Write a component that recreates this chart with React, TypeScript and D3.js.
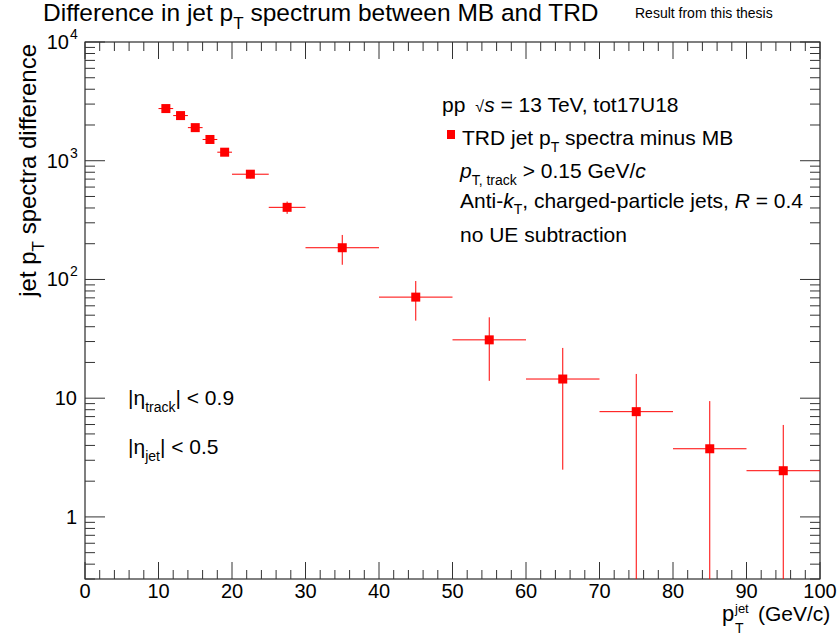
import React from "react";
import * as d3 from "d3";

const binLow = [10, 12, 14, 16, 18, 20, 25, 30, 40, 50, 60, 70, 80, 90];
const binHigh = [12, 14, 16, 18, 20, 25, 30, 40, 50, 60, 70, 80, 90, 100];
const values = [2750, 2400, 1900, 1510, 1180, 770, 405, 185, 71, 31, 14.5, 7.7, 3.75, 2.45];
const errors = [70, 65, 60, 55, 50, 60, 48, 52, 26, 17, 12, 8.3, 5.7, 3.5];
const xTicks = [0, 10, 20, 30, 40, 50, 60, 70, 80, 90, 100];
const yDecades = [1, 10, 100, 1000, 10000];

const W = 839, H = 637;
const L = 85, R = 820, T = 42, B = 579;
const FONT = "'Liberation Sans', Arial, Helvetica, sans-serif";

export default function App() {
  const x = d3.scaleLinear().domain([0, 100]).range([L, R]);
  const y = d3.scaleLog().domain([0.3, 1e4]).range([B, T]);
  const red = "#ff0000";
  const tickCol = "#333";

  const xMinor = d3.range(0, 101, 2).filter((v) => v % 10 !== 0);
  const yMinor: number[] = [];
  for (let e = -1; e < 4; e++) {
    for (let m = 2; m <= 9; m++) {
      const v = m * Math.pow(10, e);
      if (v > 0.3 && v < 1e4) yMinor.push(v);
    }
  }

  return (
    <svg width={W} height={H} style={{ position: "absolute", left: 0, top: 0 }} fontFamily={FONT}>
      <rect width={W} height={H} fill="white" />
      {/* title */}
      <text x={43} y={21} fontSize={24.5}>
        Difference in jet p<tspan dy={8} fontSize={17}>T</tspan>
        <tspan dy={-8}> spectrum between MB and TRD</tspan>
      </text>
      <text x={635} y={18} fontSize={14}>Result from this thesis</text>

      {/* frame */}
      <rect x={L} y={T} width={R - L} height={B - T} fill="none" stroke="black" strokeWidth={1} />

      {/* x ticks */}
      {xTicks.map((v) => (
        <g key={"xt" + v}>
          <line x1={x(v)} x2={x(v)} y1={B} y2={B - 17} stroke={tickCol} />
          <line x1={x(v)} x2={x(v)} y1={T} y2={T + 17} stroke={tickCol} />
          <text x={x(v)} y={598} fontSize={20} textAnchor="middle">{v}</text>
        </g>
      ))}
      {xMinor.map((v) => (
        <g key={"xm" + v}>
          <line x1={x(v)} x2={x(v)} y1={B} y2={B - 9} stroke={tickCol} />
          <line x1={x(v)} x2={x(v)} y1={T} y2={T + 9} stroke={tickCol} />
        </g>
      ))}

      {/* y ticks */}
      {yDecades.map((v) => (
        <g key={"yt" + v}>
          <line x1={L} x2={L + 20} y1={y(v)} y2={y(v)} stroke={tickCol} />
          <line x1={R} x2={R - 20} y1={y(v)} y2={y(v)} stroke={tickCol} />
        </g>
      ))}
      {yMinor.map((v) => (
        <g key={"ym" + v}>
          <line x1={L} x2={L + 10} y1={y(v)} y2={y(v)} stroke={tickCol} />
          <line x1={R} x2={R - 10} y1={y(v)} y2={y(v)} stroke={tickCol} />
        </g>
      ))}
      <text x={77} y={y(1) + 7} fontSize={20} textAnchor="end">1</text>
      <text x={77} y={y(10) + 7} fontSize={20} textAnchor="end">10</text>
      {[100, 1000, 10000].map((v, i) => (
        <g key={"yl" + v}>
          <text x={69} y={y(v) + 7} fontSize={20} textAnchor="end">10</text>
          <text x={70} y={y(v) - 3} fontSize={14}>{i + 2}</text>
        </g>
      ))}

      {/* axis titles */}
      <text transform={`translate(36,${T + 2}) rotate(-90)`} fontSize={24} textAnchor="end">
        jet p<tspan dy={8} fontSize={17}>T</tspan>
        <tspan dy={-8}> spectra difference</tspan>
      </text>
      <text x={722} y={621} fontSize={22}>p</text>
      <text x={735} y={613} fontSize={13}>jet</text>
      <text x={735} y={633} fontSize={14}>T</text>
      <text x={758} y={621} fontSize={21}>(GeV/c)</text>

      {/* data */}
      <defs>
        <clipPath id="frameClip">
          <rect x={L} y={T} width={R - L} height={B - T} />
        </clipPath>
      </defs>
      <g clipPath="url(#frameClip)">
        {values.map((v, i) => {
          const cx = x((binLow[i] + binHigh[i]) / 2);
          const cy = y(v);
          const lo = v - errors[i];
          const yLo = lo > 0 ? y(lo) : B + 5;
          return (
            <g key={"d" + i}>
              <line x1={x(binLow[i])} x2={x(binHigh[i])} y1={cy} y2={cy} stroke={red} strokeWidth={1} />
              <line x1={cx} x2={cx} y1={y(v + errors[i])} y2={yLo} stroke={red} strokeWidth={1} />
              <rect x={cx - 4.5} y={cy - 4.5} width={9} height={9} fill={red} />
            </g>
          );
        })}
      </g>

      {/* legend / labels */}
      <text x={442} y={112} fontSize={21}>
        pp<tspan dx={10} fontSize={16}>√</tspan><tspan fontStyle="italic">s</tspan> = 13 TeV, tot17U18
      </text>
      <rect x={447} y={130} width={8} height={9} fill={red} />
      <text x={462} y={145} fontSize={21}>
        TRD jet p<tspan dy={7} fontSize={14}>T</tspan><tspan dy={-7}> spectra minus MB</tspan>
      </text>
      <text x={460} y={178} fontSize={21}>
        <tspan fontStyle="italic">p</tspan>
        <tspan dy={7} fontSize={14}>T, track</tspan>
        <tspan dy={-7}> &gt; 0.15 GeV/</tspan><tspan fontStyle="italic">c</tspan>
      </text>
      <text x={460} y={208} fontSize={21}>
        Anti-<tspan fontStyle="italic">k</tspan><tspan dy={6} fontSize={14}>T</tspan>
        <tspan dy={-6}>, charged-particle jets, </tspan><tspan fontStyle="italic">R</tspan> = 0.4
      </text>
      <text x={460} y={242} fontSize={21}>no UE subtraction</text>

      <text x={128} y={405} fontSize={21}>
        |η<tspan dy={7} fontSize={14}>track</tspan><tspan dy={-7}>| &lt; 0.9</tspan>
      </text>
      <text x={128} y={454} fontSize={21}>
        |η<tspan dy={7} fontSize={14}>jet</tspan><tspan dy={-7}>| &lt; 0.5</tspan>
      </text>
    </svg>
  );
}
